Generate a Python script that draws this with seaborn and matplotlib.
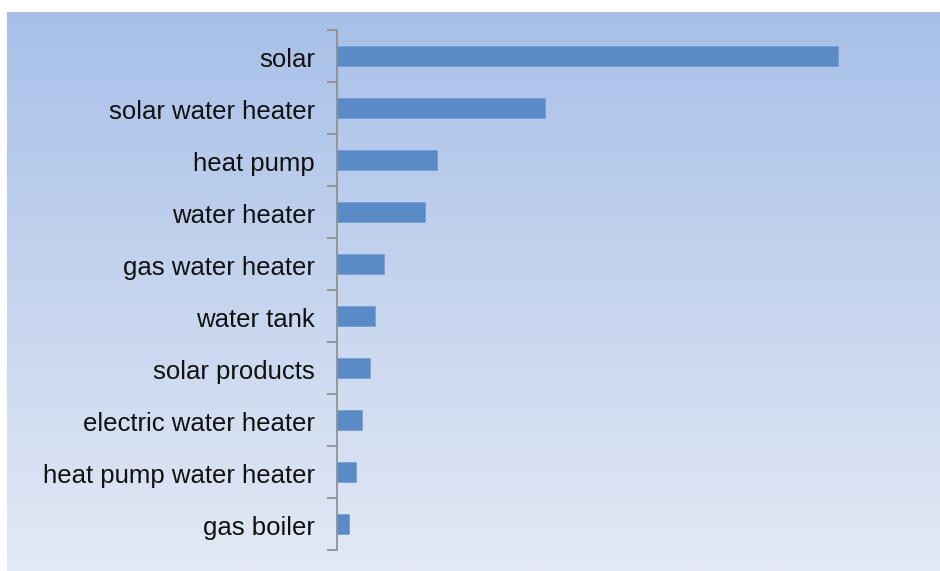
import numpy as np
import pandas as pd
import matplotlib
matplotlib.use("Agg")
import matplotlib.pyplot as plt
from matplotlib.colors import LinearSegmentedColormap
from matplotlib.ticker import FixedLocator
from matplotlib.transforms import ScaledTranslation
import seaborn as sns

# keyword interest (relative)
keywords = ["solar", "solar water heater", "heat pump", "water heater",
            "gas water heater", "water tank", "solar products",
            "electric water heater", "heat pump water heater", "gas boiler"]
interest = [100, 41.5, 20, 17.5, 9.4, 7.6, 6.6, 5.0, 3.8, 2.4]

df = pd.DataFrame({"keyword": keywords, "interest": interest})

sns.set_theme(style="white")
plt.rcParams['font.family'] = ['Liberation Sans', 'DejaVu Sans']

fig = plt.figure(figsize=(9.4, 5.71), dpi=100)
fig.patch.set_facecolor("white")

# gradient panel behind the chart
bg = fig.add_axes([7 / 940, 0, 933 / 940, 559 / 571], zorder=0)
cmap = LinearSegmentedColormap.from_list("bg", ["#a8c0e8", "#e3e9f5"])
bg.imshow(np.linspace(0, 1, 256).reshape(-1, 1), aspect="auto", cmap=cmap,
          extent=(0, 1, 0, 1))
bg.set_axis_off()

ax = fig.add_axes([337 / 940, 1 - 550 / 571, 583 / 940, 520 / 571], zorder=1)
ax.patch.set_alpha(0)
sns.barplot(data=df, x="interest", y="keyword", color="#5b8bc6",
            width=0.4, saturation=1, edgecolor="#74a0d6", linewidth=0.6, ax=ax)

ax.set_xlim(0, 116.4)
ax.set_ylim(len(keywords) - 0.5, -0.5)
ax.set_xlabel("")
ax.set_ylabel("")
ax.set_xticks([])
for s in ["top", "right", "bottom"]:
    ax.spines[s].set_visible(False)
ax.spines["left"].set_color("#8c8c8c")
ax.spines["left"].set_linewidth(1.2)

ax.yaxis.set_minor_locator(FixedLocator(np.arange(-0.5, len(keywords), 1)))
ax.tick_params(axis="y", which="major", length=0, pad=16, labelsize=18.5,
               labelcolor="#111111")
ax.tick_params(axis="y", which="minor", length=7, width=1.2, color="#8c8c8c",
               left=True, direction="out")

# nudge labels down a little, like the original
shift = ScaledTranslation(0, -0.02, fig.dpi_scale_trans)
for lbl in ax.get_yticklabels():
    lbl.set_transform(lbl.get_transform() + shift)

fig.savefig("out.png", dpi=100)
